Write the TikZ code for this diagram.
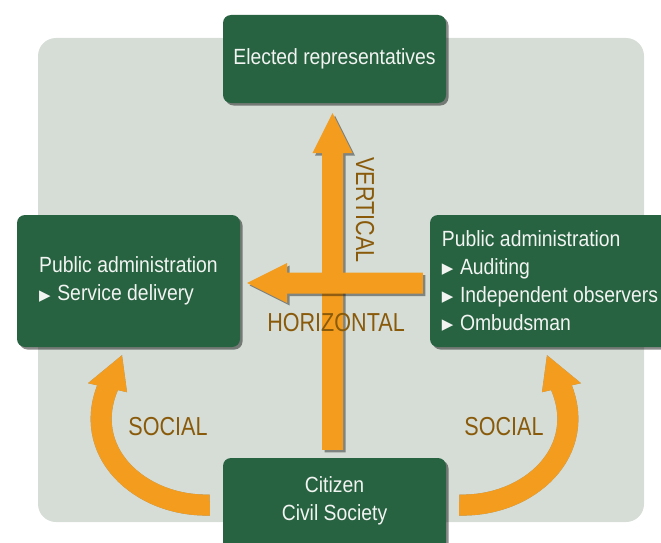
\documentclass[tikz,border=0pt]{standalone}
\usepackage{fontspec}
\usetikzlibrary{shadows,calc}
\newfontfamily\bxfont[FakeStretch=0.88]{Liberation Sans}
\newfontfamily\lbfont[FakeStretch=0.83]{Liberation Sans}
\newfontfamily\symfont{DejaVu Sans}
\definecolor{bgc}{HTML}{D5DDD6}
\definecolor{boxgreen}{HTML}{276241}
\definecolor{boxtext}{HTML}{F2F4F2}
\definecolor{arrowc}{HTML}{F39C1E}
\definecolor{labc}{HTML}{8A5A0B}
\definecolor{shadc}{HTML}{8E958F}
\newcommand\tribul{\raisebox{0.5pt}{\fontsize{15}{15}\selectfont\symfont ▶}\hspace{0.3em}}
\tikzset{
  gbox/.style={fill=boxgreen, rounded corners=8pt, text=boxtext,
    font={\bxfont\fontsize{22}{28}\selectfont},
    drop shadow={shadow xshift=2.5pt, shadow yshift=-2.5pt, opacity=.45, fill=black}},
  boxtxt/.style={text=boxtext, font={\bxfont\fontsize{22}{28}\selectfont}, inner sep=0pt},
  lab/.style={text=labc, font={\lbfont\fontsize{26}{28}\selectfont}, inner sep=0pt},
  orangefill/.style={fill=arrowc,
    drop shadow={shadow xshift=2.5pt, shadow yshift=-2.5pt, opacity=.4, fill=black}},
  curveshaft/.style={line width=21pt, draw=#1},
}
\begin{document}
\begin{tikzpicture}[x=1pt,y=-1pt]
\useasboundingbox (0,0) rectangle (661,543);
% background panel
\fill[bgc, rounded corners=18pt] (38,38) rectangle (644,522);

% boxes
\node[gbox, minimum width=223pt, minimum height=88pt, inner sep=0pt] (top) at (334.5,59) {Elected representatives};
\node[gbox, minimum width=223pt, minimum height=132pt, align=left, inner sep=0pt] (pl) at (128.5,281)
  {Public administration\\\tribul Service delivery};
\node[gbox, minimum width=240pt, minimum height=132pt, align=left, inner sep=0pt] (pr) at (550,281)
  {Public administration\\\tribul Auditing\\\tribul Independent observers\\\tribul Ombudsman};
\node[gbox, minimum width=223pt, minimum height=112pt] (cit) at (334.5,514) {};
\node[boxtxt, align=center] (citt) at (334.5,501) {Citizen\\Civil Society};

% vertical arrow
\coordinate (vt) at ($(cit.north)+(-2,-8)$);
\coordinate (vh) at ($(top.south)+(-2,10)$);
\fill[orangefill] ($(vt)+(-10.5,0)$) -- ($(vh)+(-10.5,40)$) -- ($(vh)+(-20,40)$) -- (vh)
  -- ($(vh)+(20,40)$) -- ($(vh)+(10.5,40)$) -- ($(vt)+(10.5,0)$) -- cycle;
% horizontal arrow
\coordinate (ht) at ($(pr.west)+(-7,2)$);
\coordinate (hh) at ($(pl.east)+(7,2)$);
\fill[orangefill] ($(ht)+(0,-10.5)$) -- ($(hh)+(40,-10.5)$) -- ($(hh)+(40,-20)$) -- (hh)
  -- ($(hh)+(40,20)$) -- ($(hh)+(40,10.5)$) -- ($(ht)+(0,10.5)$) -- cycle;

% curved arrows
\coordinate (lt) at ($(cit.west)+(-13,-9)$);
\coordinate (lh) at ($(pl.south)+(-6.5,8)$);
\coordinate (rt) at ($(cit.east)+(13,-9)$);
\coordinate (rh) at ($(pr.south)+(-3,8)$);
\foreach \col/\sh in {shadc/2.5, arrowc/0}{
  \begin{scope}[shift={(\sh,\sh)}]
    \draw[curveshaft=\col] (lt) .. controls ($(lt)+(-70,2)$) and ($(lh)+(-43,96)$) .. ($(lh)+(-13,29)$);
    \fill[\col] ($(lh)+(-34,28)$) -- (lh) -- ($(lh)+(5,37)$) -- cycle;
    \draw[curveshaft=\col] (rt) .. controls ($(rt)+(70,2)$) and ($(rh)+(43,96)$) .. ($(rh)+(13,29)$);
    \fill[\col] ($(rh)+(34,28)$) -- (rh) -- ($(rh)+(-5,37)$) -- cycle;
  \end{scope}
}

% labels
\node[lab, rotate=-90] (lv) at (365,210) {VERTICAL};
\node[lab] (lhz) at (336,323) {HORIZONTAL};
\node[lab] (ls1) at (168,427) {SOCIAL};
\node[lab] (ls2) at (504,427) {SOCIAL};
\end{tikzpicture}
\end{document}
